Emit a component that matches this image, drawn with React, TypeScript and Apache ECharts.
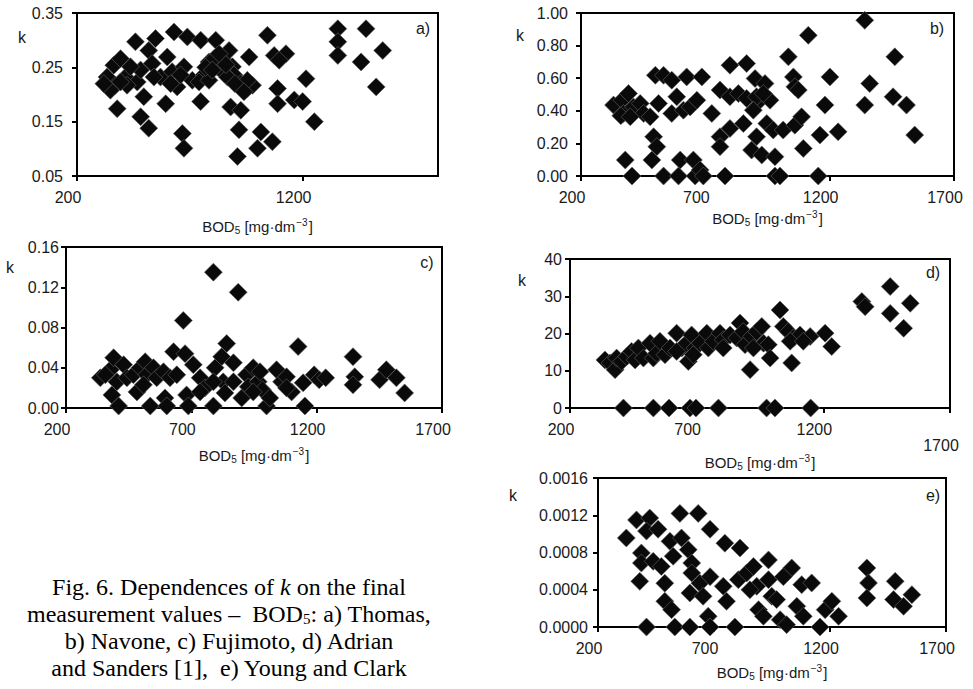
import React, { useEffect, useRef } from 'react';
import * as echarts from 'echarts';

// ---------- data: [BOD5, k] ----------
const thomasPoints = [
  [333,0.232],[363,0.254],[393,0.266],[370,0.217],[415,0.232],[459,0.297],[378,0.174],[467,0.223],[482,0.245],[496,0.196],
  [482,0.159],[518,0.138],[518,0.281],[533,0.257],[548,0.303],[570,0.232],[593,0.183],[600,0.269],[622,0.242],[630,0.315],
  [644,0.214],[674,0.251],[667,0.128],[674,0.101],[689,0.306],[711,0.226],[748,0.300],[748,0.187],[763,0.236],[785,0.260],
  [815,0.300],[822,0.251],[844,0.266],[874,0.281],[889,0.251],[896,0.236],[881,0.177],[926,0.171],[918,0.135],[911,0.086],
  [926,0.220],[955,0.211],[963,0.269],[978,0.217],[1000,0.101],[1015,0.131],[1044,0.309],[1066,0.113],[1074,0.272],[1089,0.211],
  [1089,0.183],[1126,0.275],[1163,0.190],[1200,0.187],[1215,0.229],[1252,0.150],[1356,0.321],[1356,0.297],[1356,0.272],[1481,0.321],
  [1459,0.260],[1555,0.281],[1526,0.214],[348,0.208],[422,0.217],[437,0.251],[541,0.232],[615,0.220],[659,0.236],[741,0.223],
  [785,0.226],[807,0.266],[852,0.239],[867,0.232],[955,0.226],[1096,0.263],[319,0.220],[393,0.223],[770,0.250],[800,0.245],
  [830,0.275],[860,0.255],[900,0.220],[940,0.205]
];
const navonePoints = [
  [331,0.435],[365,0.465],[391,0.506],[371,0.384],[411,0.424],[438,0.445],[452,0.384],[478,0.363],[378,0.098],[405,0],
  [492,0.241],[505,0.18],[485,0.098],[512,0.445],[499,0.618],[532,0.618],[565,0.588],[532,0],[565,0.384],[585,0.486],
  [599,0.098],[592,0],[625,0.608],[612,0.404],[639,0.424],[652,0.098],[659,0],[666,0.465],[686,0.608],[679,0.037],
  [692,0],[726,0.384],[759,0.527],[759,0.241],[759,0.18],[779,0],[799,0.68],[799,0.486],[799,0.292],[833,0.506],
  [853,0.322],[866,0.69],[866,0.476],[886,0.159],[900,0.598],[906,0.241],[920,0.465],[927,0.129],[940,0.567],[947,0.322],
  [960,0.465],[973,0.282],[980,0.118],[980,0],[1000,0],[1013,0.282],[1034,0.731],[1054,0.608],[1060,0.547],[1060,0.312],
  [1074,0.527],[1087,0.363],[1094,0.169],[1114,0.863],[1154,0],[1161,0.251],[1181,0.435],[1201,0.608],[1234,0.271],[1341,0.955],
  [1341,0.435],[1361,0.567],[1455,0.486],[1462,0.731],[1509,0.435],[1542,0.251],[360,0.37],[398,0.363],[906,0.486],[933,0.506],
  [893,0.404]
];
const fujimotoPoints = [
  [337,0.030],[377,0.038],[390,0.050],[403,0.026],[383,0.013],[410,0.002],[430,0.043],[443,0.030],[469,0.033],[483,0.016],
  [496,0.040],[516,0.046],[522,0.033],[536,0.002],[549,0.040],[562,0.030],[589,0.036],[595,0.010],[602,0.002],[615,0.030],
  [629,0.056],[642,0.033],[668,0.087],[675,0.054],[681,0.013],[688,0.002],[708,0.043],[735,0.030],[754,0.020],[788,0.135],
  [788,0.002],[795,0.040],[821,0.051],[827,0.026],[841,0.064],[868,0.045],[868,0.026],[887,0.115],[901,0.010],[920,0.033],
  [927,0.021],[947,0.040],[967,0.026],[984,0.018],[1000,0.002],[1013,0.010],[1040,0.038],[1060,0.026],[1080,0.031],[1100,0.016],
  [1126,0.061],[1146,0.025],[1153,0.002],[1190,0.033],[1210,0.028],[1236,0.030],[1345,0.051],[1352,0.031],[1345,0.023],[1451,0.028],
  [1478,0.038],[1518,0.030],[1551,0.015],[788,0.026],[834,0.015],[735,0.016],[947,0.016],[509,0.023],[357,0.033],[974,0.036],
  [1080,0.020]
];
const adrianPoints = [
  [338,12.9],[358,12.1],[378,10.3],[384,13.4],[404,12.5],[424,13.8],[443,15.2],[457,12.9],[470,16.1],[490,13.4],
  [516,17.4],[529,13.4],[542,14.7],[555,17.9],[575,14.3],[595,16.1],[621,20.1],[641,16.1],[654,17.0],[667,12.5],
  [680,19.6],[693,16.1],[713,17.4],[740,20.1],[746,16.1],[766,17.9],[792,20.1],[805,18.3],[832,19.6],[858,18.8],
  [871,22.8],[884,20.5],[891,17.0],[911,10.3],[917,19.2],[937,20.5],[957,21.9],[964,17.4],[983,17.0],[990,13.4],
  [1029,26.3],[1042,21.9],[1062,20.5],[1075,12.1],[1082,18.8],[1108,19.6],[1148,19.2],[1207,20.1],[1233,16.5],[1352,28.6],
  [1365,27.2],[1464,32.6],[1464,25.4],[1517,21.4],[1543,28.1],[621,15.2],[687,14.3],[805,16.1],[924,16.1],[1069,17.9],
  [1121,17.9],
  [411,0],[529,0],[591,0],[674,0],[697,0],[786,0],[976,0],[1009,0],[1150,0]
];
const youngPoints = [
  [322,0.000956],[366,0.00115],[387,0.000795],[380,0.00049],[423,0.00117],[409,0.00103],[387,0.000687],[409,0],[459,0.00105],[438,0.000705],
  [473,0.00065],[488,0.00047],[488,0.000276],[510,0.00092],[524,0.00076],[517,0.000186],[531,0],[553,0.00122],[560,0.000956],[589,0.00083],
  [596,0],[596,0.000365],[604,0.000687],[604,0.00058],[632,0.00122],[639,0.00047],[683,0.00054],[683,0.00105],[675,0.000115],[683,0],
  [747,0.0009],[740,0.000437],[754,0.000276],[790,0],[812,0.000848],[805,0.000508],[841,0.00058],[870,0.00065],[884,0.000437],[892,0.000186],
  [913,0.000115],[935,0.000508],[949,0.00033],[970,0.000294],[985,0.0000788],[1013,0.000025],[1035,0.000634],[1057,0.000222],[1078,0.000455],[1085,0.000115],
  [1121,0.000473],[1157,0],[1179,0.000186],[1208,0.000276],[1237,0.000115],[1359,0.000634],[1366,0.000473],[1359,0.000311],[1481,0.00049],[1474,0.000294],
  [1517,0.000222],[1553,0.000347],[855,0.0004],[935,0.00072],[999,0.00054],[653,0.00033]
];

const captionLines = [
  'Fig. 6. Dependences of {i|k} on the final',
  'measurement values –  BOD{sub|5}: a) Thomas,',
  'b) Navone, c) Fujimoto, d) Adrian',
  'and Sanders [1],  e) Young and Clark'
];

// ---------- layout ----------
const panels = [
  { tag: 'a)', data: thomasPoints, grid: { left: 77, top: 13, width: 361, height: 163 },
    yMin: 0.05, yMax: 0.35, yInt: 0.1, dec: 2, xMax: 1800, xInt: 1000, yMargin: 14, nameGap: 41,
    kPos: [22, 37], tagPos: [423, 28] },
  { tag: 'b)', data: navonePoints, grid: { left: 581, top: 13, width: 373, height: 163 },
    yMin: 0, yMax: 1, yInt: 0.2, dec: 2, xMax: 1700, xInt: 500, yMargin: 13, nameGap: 33,
    kPos: [520, 35], tagPos: [937, 28] },
  { tag: 'c)', data: fujimotoPoints, grid: { left: 66, top: 247, width: 376, height: 161 },
    yMin: 0, yMax: 0.16, yInt: 0.04, dec: 2, xMax: 1700, xInt: 500, yMargin: 7, nameGap: 38,
    kPos: [10, 267], tagPos: [427, 262] },
  { tag: 'd)', data: adrianPoints, grid: { left: 570, top: 259, width: 380, height: 149 },
    yMin: 0, yMax: 40, yInt: 10, dec: 0, xMax: 1700, xInt: 500, yMargin: 8, nameGap: 36,
    kPos: [522, 280], tagPos: [933, 272], lowLast: true },
  { tag: 'e)', data: youngPoints, grid: { left: 598, top: 478, width: 348, height: 149 },
    yMin: 0, yMax: 0.0016, yInt: 0.0004, dec: 4, xMax: 1700, xInt: 500, yMargin: 10, nameGap: 36,
    kPos: [513, 495], tagPos: [933, 495] }
];

const SANS = '"Liberation Sans", Arial, Helvetica, sans-serif';
const SERIF = '"Liberation Serif", "Times New Roman", serif';
const TXT = '#1a1a1a';
const LBL = 16;

export default function App() {
  const ref = useRef<HTMLDivElement>(null);
  useEffect(() => {
    if (!ref.current) return;
    const chart = echarts.init(ref.current, null, { renderer: 'svg' });
    const nameRich = {
      sub: { fontSize: 10, fontFamily: SANS, color: TXT, verticalAlign: 'bottom', padding: [5, 0, 0, 0] },
      sup: { fontSize: 10, fontFamily: SANS, color: TXT, verticalAlign: 'top', padding: [0, 1, 8, 1] }
    };
    const grids = panels.map(p => ({ ...p.grid, show: true, borderColor: '#000', borderWidth: 2, backgroundColor: 'transparent' }));
    const xAxes = panels.map((p, i) => ({
      type: 'value', gridIndex: i, min: 200, max: p.xMax, interval: p.xInt,
      name: 'BOD{sub|5} [mg·dm{sup|−3}]', nameLocation: 'middle', nameGap: p.nameGap,
      nameTextStyle: { fontSize: 15, fontFamily: SANS, color: TXT, rich: nameRich },
      axisLine: { show: true, onZero: false, lineStyle: { color: '#000', width: 2 } },
      axisTick: { show: true, length: 5, lineStyle: { color: '#000', width: 2 } },
      splitLine: { show: false },
      axisLabel: {
        fontSize: LBL, fontFamily: SANS, color: TXT, margin: 13, padding: [0, 18, 0, 0],
        showMaxLabel: p.xMax === 1700,
        formatter: (v: number) => (p.lowLast && v === 1700 ? '{low|1700}' : String(v)),
        rich: { low: { fontSize: LBL, fontFamily: SANS, color: TXT, padding: [16, 0, 0, 0] } }
      }
    }));
    const yAxes = panels.map((p, i) => ({
      type: 'value', gridIndex: i, min: p.yMin, max: p.yMax, interval: p.yInt,
      axisLine: { show: true, onZero: false, lineStyle: { color: '#000', width: 2 } },
      axisTick: { show: true, length: 5, lineStyle: { color: '#000', width: 2 } },
      splitLine: { show: false },
      axisLabel: {
        fontSize: LBL, fontFamily: SANS, color: TXT, margin: p.yMargin,
        formatter: (v: number) => v.toFixed(p.dec)
      }
    }));
    const series = panels.map((p, i) => ({
      type: 'scatter', xAxisIndex: i, yAxisIndex: i, data: p.data,
      symbol: 'diamond', symbolSize: 18, clip: false,
      itemStyle: { color: '#0a0a0a', opacity: 1, borderColor: '#666', borderWidth: 0.6 }
    }));
    const graphics: any[] = [];
    panels.forEach(p => {
      graphics.push({ type: 'text', x: p.kPos[0], y: p.kPos[1],
        style: { text: 'k', fontSize: 16, fontFamily: SANS, fill: TXT, align: 'center', verticalAlign: 'middle' } });
      graphics.push({ type: 'text', x: p.tagPos[0], y: p.tagPos[1],
        style: { text: p.tag, fontSize: 16, fontFamily: SANS, fill: TXT, align: 'center', verticalAlign: 'middle' } });
    });
    captionLines.forEach((line, i) => {
      graphics.push({ type: 'text', x: 229, y: 587 + i * 27,
        style: { text: line, fontSize: 24, fontFamily: SERIF, fill: '#000', align: 'center', verticalAlign: 'middle',
          rich: {
            i: { fontSize: 24, fontFamily: SERIF, fontStyle: 'italic', fill: '#000' },
            sub: { fontSize: 15, fontFamily: SERIF, fill: '#000', verticalAlign: 'bottom', padding: [7, 0, 0, 0] }
          } } });
    });
    chart.setOption({
      animation: false,
      backgroundColor: '#fff',
      grid: grids, xAxis: xAxes, yAxis: yAxes, series, graphic: graphics
    });
    return () => chart.dispose();
  }, []);
  return <div ref={ref} style={{ position: 'fixed', left: 0, top: 0, width: 973, height: 689 }} />;
}
